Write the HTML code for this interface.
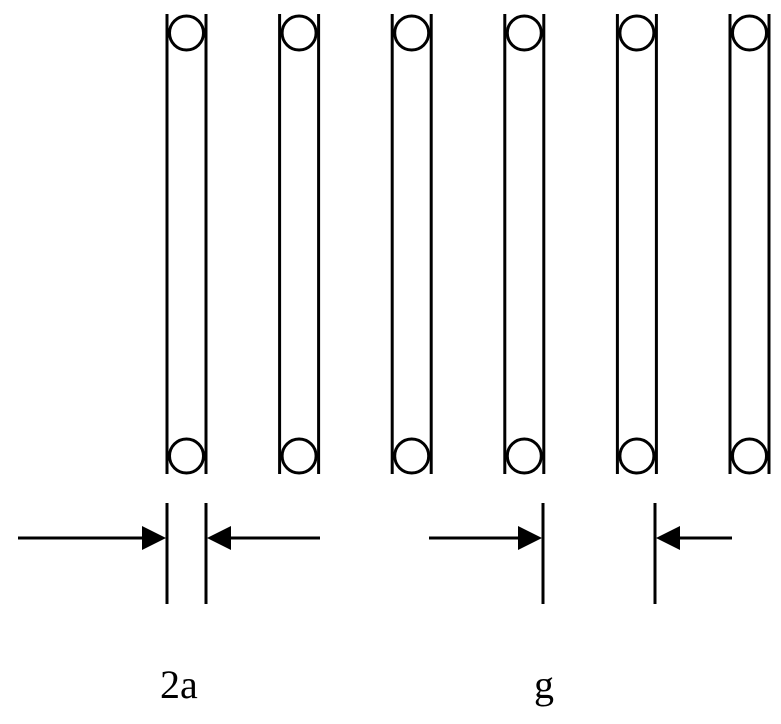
<!DOCTYPE html>
<html><head><style>html,body{margin:0;padding:0;background:#fff;}</style></head>
<body>
<svg width="781" height="719" viewBox="0 0 781 719" xmlns="http://www.w3.org/2000/svg">
<g stroke="#000" stroke-width="3" fill="none">
<g id="t">
<line x1="167" y1="14" x2="167" y2="474"/>
<line x1="206" y1="14" x2="206" y2="474"/>
<circle cx="186.5" cy="33" r="17"/>
<circle cx="186.5" cy="456" r="17"/>
</g>
<use href="#t" x="112.6"/>
<use href="#t" x="225.2"/>
<use href="#t" x="337.8"/>
<use href="#t" x="450.4"/>
<use href="#t" x="563"/>
<line x1="167" y1="503" x2="167" y2="604"/>
<line x1="206" y1="503" x2="206" y2="604"/>
<line x1="543" y1="503" x2="543" y2="604"/>
<line x1="655" y1="503" x2="655" y2="604"/>
<line x1="18" y1="538" x2="145" y2="538"/>
<line x1="228" y1="538" x2="320" y2="538"/>
<line x1="429" y1="538" x2="520" y2="538"/>
<line x1="678" y1="538" x2="732" y2="538"/>
</g>
<g fill="#000">
<polygon points="166,538 142,526 142,550"/>
<polygon points="207,538 231,526 231,550"/>
<polygon points="542,538 518,526 518,550"/>
<polygon points="656,538 680,526 680,550"/>
</g>
<g font-family="Liberation Serif, serif" font-size="40" fill="#000">
<text x="160" y="698">2a</text>
<text x="534" y="698">g</text>
</g>
</svg>
</body></html>
